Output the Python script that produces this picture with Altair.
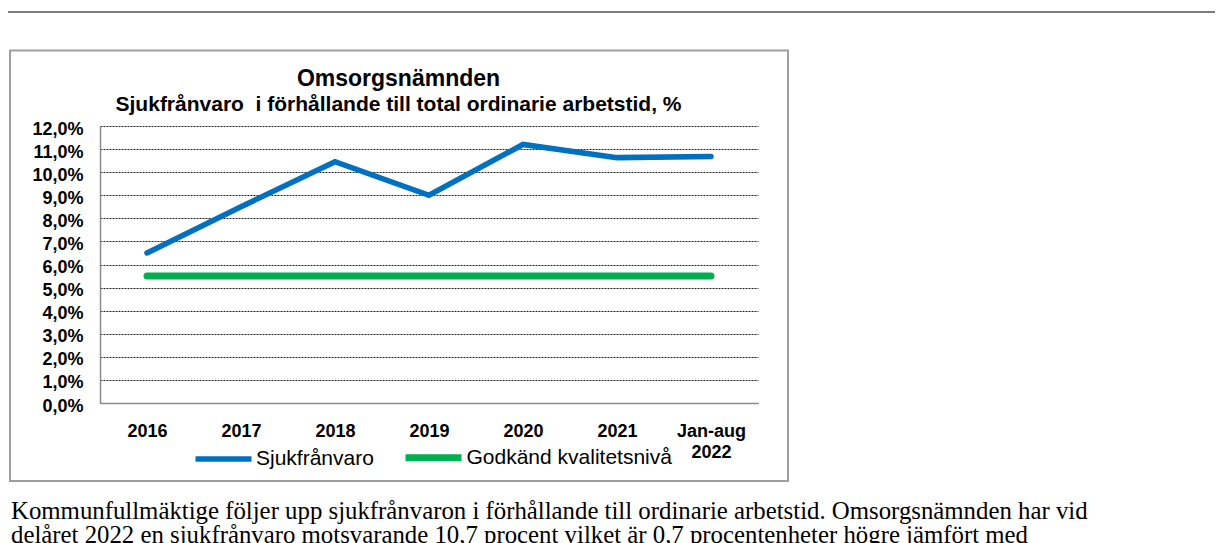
import altair as alt
import pandas as pd

# ---- data ----
categories = ["2016", "2017", "2018", "2019", "2020", "2021", "Jan-aug\n2022"]
sjukfranvaro = [6.5, 8.5, 10.45, 9.0, 11.2, 10.63, 10.68]
godkand_niva = [5.5, 5.5, 5.5, 5.5, 5.5, 5.5, 5.5]
series_names = ["Sjukfrånvaro", "Godkänd kvalitetsnivå"]
series_colors = ["#0070C0", "#00B050"]
y_ticks = [0, 1, 2, 3, 4, 5, 6, 7, 8, 9, 10, 11, 12]

title_text = "Omsorgsnämnden"
subtitle_text = "Sjukfrånvaro\u00a0 i förhållande till total ordinarie arbetstid, %"
body_lines = [
    "Kommunfullmäktige följer upp sjukfrånvaron i förhållande till ordinarie arbetstid. Omsorgsnämnden har vid",
    "delåret 2022 en sjukfrånvaro motsvarande 10,7 procent vilket är 0,7 procentenheter högre jämfört med",
]

SANS = "Liberation Sans"
SERIF = "Liberation Serif"

df = pd.DataFrame({
    "Kategori": categories + categories,
    "Serie": [series_names[0]] * len(categories) + [series_names[1]] * len(categories),
    "Varde": sjukfranvaro + godkand_niva,
})

one = pd.DataFrame({"k": [0]})
title_df = pd.DataFrame({"text": [title_text]})
subtitle_df = pd.DataFrame({"text": [subtitle_text]})
body_df = pd.DataFrame({"text": ["\n".join(body_lines)]})

x_enc = alt.X(
    "Kategori:N",
    sort=categories,
    scale=alt.Scale(type="point", padding=0.5),
    axis=alt.Axis(
        title=None, labelAngle=0, labelExpr="split(datum.label, '\\n')",
        labelFont=SANS, labelFontSize=18, labelFontWeight="bold", labelColor="black",
        labelPadding=19, labelLineHeight=21, ticks=False, tickSize=0,
        domainColor="#8c8c8c", domainWidth=1.5, grid=False,
    ),
)
y_enc = alt.Y(
    "Varde:Q",
    scale=alt.Scale(domain=[0, 12], nice=False, zero=True),
    axis=alt.Axis(
        title=None, values=y_ticks,
        labelExpr="replace(format(datum.value, '.1f'), '.', ',') + '%'",
        labelFont=SANS, labelFontSize=18, labelFontWeight="bold", labelColor="black",
        labelPadding=17, labelOffset=3, ticks=False, tickSize=0,
        domainColor="#8c8c8c", domainWidth=1.5,
        grid=True, gridColor="#222222", gridDash=[2, 1], gridWidth=1,
    ),
)

lines = alt.Chart(df).mark_line(strokeCap="round").encode(
    x=x_enc,
    y=y_enc,
    color=alt.Color(
        "Serie:N",
        sort=series_names,
        scale=alt.Scale(domain=series_names, range=series_colors),
        legend=alt.Legend(
            title=None, orient="none", direction="horizontal",
            legendX=92.5, legendY=300,
            symbolType="stroke", symbolSize=3136, symbolStrokeWidth=6,
            labelFont=SANS, labelFontSize=21, labelColor="black", labelLimit=0,
            labelOffset=1.5, columnPadding=16.5, padding=0,
        ),
    ),
    strokeWidth=alt.StrokeWidth(
        "Serie:N", scale=alt.Scale(domain=series_names, range=[5.5, 7]), legend=None
    ),
)

frame = alt.Chart(one).mark_rect(
    fill="white", fillOpacity=0, stroke="#9f9f9f", strokeWidth=2
).encode(
    x=alt.value(-90), x2=alt.value(688), y=alt.value(-75.5), y2=alt.value(355)
)

top_line = alt.Chart(one).mark_rule(stroke="#505050", strokeWidth=1.5).encode(
    x=alt.value(-92), x2=alt.value(1115), y=alt.value(-114)
)

title = alt.Chart(title_df).mark_text(
    align="center", baseline="alphabetic", font=SANS, fontSize=23,
    fontWeight="bold", color="black",
).encode(x=alt.value(298.5), y=alt.value(-40), text="text:N")

subtitle = alt.Chart(subtitle_df).mark_text(
    align="center", baseline="alphabetic", font=SANS, fontSize=21,
    fontWeight="bold", color="black",
).encode(x=alt.value(298.5), y=alt.value(-15), text="text:N")

body = alt.Chart(body_df).mark_text(
    align="left", baseline="alphabetic", font=SERIF, fontSize=24.8,
    lineBreak="\n", lineHeight=24.5, color="black",
).encode(x=alt.value(-89), y=alt.value(392.5), text="text:N")

chart = alt.layer(frame, top_line, title, subtitle, lines, body).properties(
    width=658,
    height=277,
    padding={"left": 92, "top": 118, "right": 457, "bottom": 140},
    autosize=alt.AutoSizeParams(type="none"),
).configure_view(stroke=None)

chart.save("out.html", embed_options={"renderer": "svg", "actions": False})
